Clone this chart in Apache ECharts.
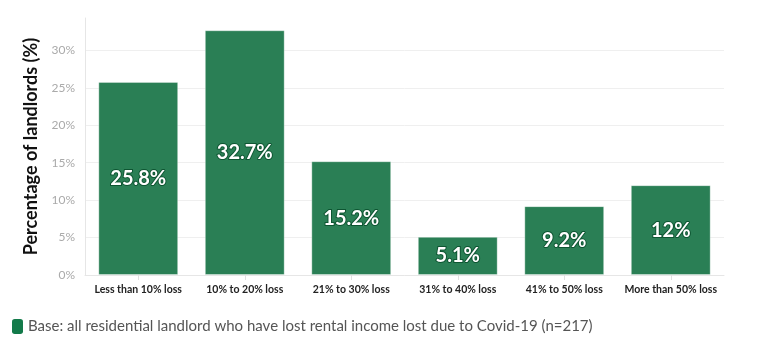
<!DOCTYPE html>
<html>
<head>
<meta charset="utf-8">
<script src="https://cdn.jsdelivr.net/npm/echarts@6/dist/echarts.min.js"></script>
<style>html,body{margin:0;padding:0;background:#fff}#c{width:779px;height:341px}</style>
</head>
<body>
<div id="c"></div>
<script>
const categories = ['Less than 10% loss','10% to 20% loss','21% to 30% loss','31% to 40% loss','41% to 50% loss','More than 50% loss'];
const values = [25.8, 32.7, 15.2, 5.1, 9.2, 12];
const seriesName = 'Base: all residential landlord who have lost rental income lost due to Covid-19 (n=217)';
const yAxisName = 'Percentage of landlords (%)';
const yMax = 34.335;

const chart = echarts.init(document.getElementById('c'), null, {renderer:'canvas'});
const font = 'Lato, "Noto Sans", sans-serif';
chart.setOption({
  animation: false,
  textStyle: {fontFamily: font},
  grid: {left: 85, right: 55, top: 18, bottom: 66, containLabel: false},
  legend: {
    left: 7, bottom: 2,
    itemWidth: 11, itemHeight: 15, itemGap: 10,
    icon: 'roundRect',
    textStyle: {fontSize: 15, color: '#555', fontFamily: font},
    data: [{name: seriesName, itemStyle: {color: '#137a4a', opacity: 1, borderWidth: 0}}]
  },
  xAxis: {
    type: 'category',
    data: categories,
    axisLine: {show: true, lineStyle: {color: '#e6e6e6'}},
    axisTick: {show: true, alignWithLabel: true, length: 5, lineStyle: {color: '#e0e0e0'}},
    axisLabel: {fontSize: 10.5, fontWeight: 'bold', color: '#222', margin: 9, interval: 0}
  },
  yAxis: {
    type: 'value',
    min: 0, max: yMax, interval: 5,
    name: yAxisName,
    nameLocation: 'middle',
    nameGap: 45,
    nameTextStyle: {fontSize: 18, fontWeight: 'bold', color: '#111'},
    axisLine: {show: true, lineStyle: {color: '#e6e6e6'}},
    axisTick: {show: false},
    axisLabel: {show: true, showMaxLabel: false, color: '#aaa', fontSize: 12, margin: 10,
      formatter: v => (Math.abs(v % 5) < 1e-6 ? v + '%' : '')},
    splitLine: {show: true, lineStyle: {color: ['#efefef','#efefef','#efefef','#efefef','#efefef','#efefef','#efefef','rgba(0,0,0,0)']}}
  },
  series: [{
    name: seriesName,
    type: 'bar',
    data: values,
    barWidth: '75%',
    itemStyle: {color: '#2a7f55', borderColor: 'rgba(255,255,255,0.35)', borderWidth: 1},
    label: {
      show: true, position: 'inside',
      formatter: p => p.value + '%',
      color: '#fff', fontSize: 20, fontWeight: 'bold',
      textBorderColor: '#0e5532', textBorderWidth: 2
    }
  }]
});
</script>
</body>
</html>
